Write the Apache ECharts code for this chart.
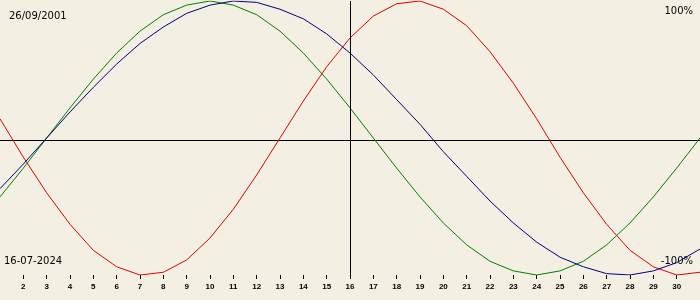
<!DOCTYPE html>
<html>
<head>
<meta charset="utf-8">
<script src="https://cdn.jsdelivr.net/npm/echarts@6/dist/echarts.min.js"></script>
<style>
html,body{margin:0;padding:0;background:#f3efe2;}
#c{width:700px;height:300px;}
</style>
</head>
<body>
<div id="c"></div>
<script>
const days = [1,2,3,4,5,6,7,8,9,10,11,12,13,14,15,16,17,18,19,20,21,22,23,24,25,26,27,28,29,30,31];
const dayTicks = [2,3,4,5,6,7,8,9,10,11,12,13,14,15,16,17,18,19,20,21,22,23,24,25,26,27,28,29,30];
const physical = [14,-14,-40,-63,-82,-94,-100,-98,-89,-73,-52,-27,0,27,52,73,89,98,100,94,82,63,40,14,-14,-40,-63,-82,-94,-100,-98];
const emotional = [-43,-22,0,22,43,62,78,90,97,100,97,90,78,62,43,22,0,-22,-43,-62,-78,-90,-97,-100,-97,-90,-78,-62,-43,-22,0];
const intellectual = [-37,-19,0,19,37,54,69,81,91,97,100,99,94,87,76,62,46,28,10,-10,-28,-46,-62,-76,-87,-94,-99,-100,-97,-91,-81];
const birthDate = '26/09/2001';
const currentDate = '16-07-2024';
const selectedDay = 16;
const topLabel = '100%';
const bottomLabel = '-100%';

const chart = echarts.init(document.getElementById('c'), null, {renderer:'canvas'});
function pairs(arr){ return days.map((d,i)=>[d, arr[i]]); }
const lineBase = {type:'line', showSymbol:false, symbol:'none', smooth:false, silent:true, animation:false};
chart.setOption({
  backgroundColor:'#f3efe2',
  animation:false,
  grid:{left:0,right:0,top:1,height:274,containLabel:false},
  xAxis:{
    type:'value', min:1, max:31, interval:1,
    axisLine:{show:false, onZero:false},
    splitLine:{show:false},
    axisTick:{show:true, length:4, lineStyle:{color:'#000',width:1}, customValues:dayTicks},
    axisLabel:{show:true, customValues:dayTicks, margin:8, color:'#000', fontFamily:'Liberation Sans', fontWeight:'bold', fontSize:8}
  },
  yAxis:{
    type:'value', min:-100, max:100,
    show:false, splitLine:{show:false}
  },
  series:[
    Object.assign({}, lineBase, {name:'physical', data:pairs(physical), lineStyle:{color:'#e00000',width:1},
      markLine:{silent:true, symbol:'none', label:{show:false}, lineStyle:{color:'#000',width:1,type:'solid'}, data:[{xAxis:selectedDay}]}}),
    Object.assign({}, lineBase, {name:'emotional', data:pairs(emotional), lineStyle:{color:'#008000',width:1}}),
    Object.assign({}, lineBase, {name:'intellectual', data:pairs(intellectual), lineStyle:{color:'#000080',width:1}})
  ],
  graphic:[
    {type:'line', shape:{x1:0,y1:140.5,x2:700,y2:140.5}, style:{stroke:'#000',lineWidth:1}, z:1},
    {type:'text', left:9, top:11, style:{text:birthDate, fill:'#000', font:'10px "DejaVu Sans"'}},
    {type:'text', right:7, top:6, style:{text:topLabel, fill:'#000', font:'10px "DejaVu Sans"'}},
    {type:'text', left:4, top:256, style:{text:currentDate, fill:'#000', font:'10px "DejaVu Sans"'}},
    {type:'text', right:7, top:256, style:{text:bottomLabel, fill:'#000', font:'10px "DejaVu Sans"'}}
  ]
});
</script>
</body>
</html>
